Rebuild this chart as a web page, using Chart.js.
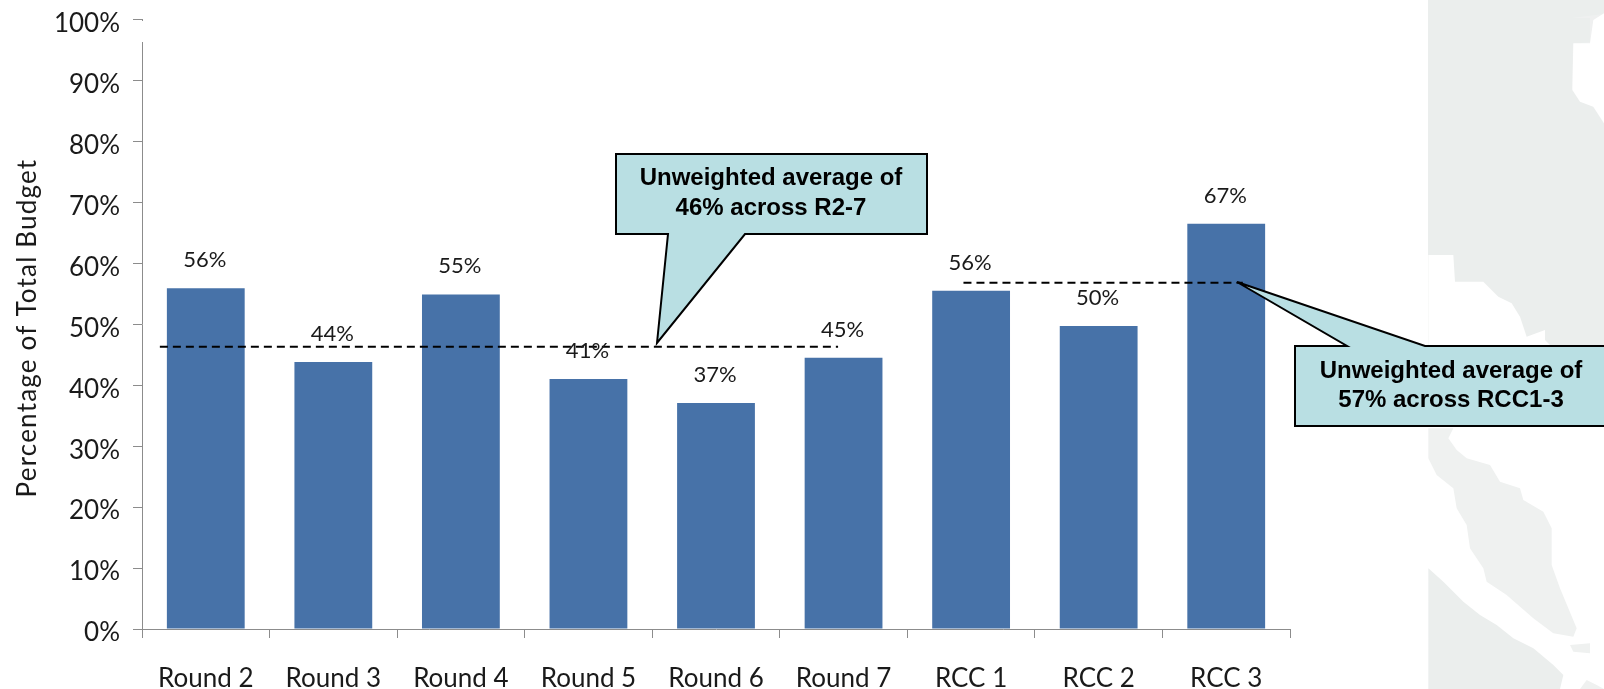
<!DOCTYPE html>
<html><head><meta charset="utf-8">
<style>html,body{margin:0;padding:0;background:#fff}canvas{display:block}</style>
<script src="https://cdn.jsdelivr.net/npm/chart.js@4"></script></head>
<body><div style="width:1604px;height:689px"><canvas id="c" width="1604" height="689"></canvas></div>
<script>
const categories = ["Round 2","Round 3","Round 4","Round 5","Round 6","Round 7","RCC 1","RCC 2","RCC 3"];
const budgetShare = [55.9,43.8,54.9,41,37.1,44.5,55.5,49.7,66.5];
const barLabels = ["56%","44%","55%","41%","37%","45%","56%","50%","67%"];
const avgRoundsX = [0.14,5.457];
const avgRoundsY = [46.3,46.3];
const avgRccX = [6.44,8.63];
const avgRccY = [56.8,56.8];
const yAxisTitle = "Percentage of Total Budget";
const calloutRounds = ["Unweighted average of","46% across R2-7"];
const calloutRcc = ["Unweighted average of","57% across RCC1-3"];

const FONT = "Lato, 'Open Sans', sans-serif";
const poly = (ctx,pts,col)=>{ctx.beginPath();pts.forEach((p,i)=>i?ctx.lineTo(p[0],p[1]):ctx.moveTo(p[0],p[1]));ctx.closePath();ctx.fillStyle=col;ctx.fill();};
const z = (x0,y0,pts)=>pts.map(p=>[x0+p[0]/3,y0+p[1]/3]);

const mapBackdrop = {id:'mapBackdrop',beforeDraw(ch){
  const c=ch.ctx,G='#ebeeed',L='#eff1f0',W='#ffffff';c.save();
  c.fillStyle=W;c.fillRect(0,0,1604,689);
  c.fillStyle=G;c.fillRect(1428,0,176,350);
  poly(c,[[1572,18],[1590,18],[1590,42],[1573,44],[1572,88],[1580,101],[1593,107],[1604,124],[1604,14]],'#eff0f0');
  poly(c,z(1540,0,[[192,40],[160,60],[150,130],[100,130],[97,270],[120,305],[160,320],[192,370]]),W);
  poly(c,z(1420,240,[[25,45],[100,45],[105,125],[190,125],[235,170],[275,190],[300,230],[320,290],[375,270],[375,300],[405,330],[25,330]]),W);
  const P=[[25,10],[100,10],[85,40],[110,75],[140,100],[210,120],[240,170],[300,190],[310,225],[370,260],[395,310],[395,420],[420,490],[470,610],[460,635],[400,625],[340,580],[260,510],[200,470],[190,430],[150,370],[140,300],[110,250],[100,190],[50,150],[25,100]];
  poly(c,z(1420,425,P),L);
  poly(c,z(1420,425,[[25,430],[70,470],[130,530],[180,570],[230,600],[280,640],[340,670],[400,720],[430,750],[420,792],[25,792]]),G);
  poly(c,z(1420,425,[[480,792],[500,765],[530,780],[552,792]]),L);
  poly(c,z(1420,425,[[450,660],[510,655],[510,685],[460,680]]),L);
  c.restore();
}};

function callout(c,pts,lines,cx,ys){
  c.save();
  c.beginPath();pts.forEach((p,i)=>i?c.lineTo(p[0],p[1]):c.moveTo(p[0],p[1]));c.closePath();
  c.fillStyle='#b9dfe3';c.fill();c.strokeStyle='#000';c.lineWidth=2;c.lineJoin='miter';c.stroke();
  c.fillStyle='#000';c.font="bold 24px 'Liberation Sans', Arial, sans-serif";c.textAlign='center';c.textBaseline='middle';
  lines.forEach((t,i)=>c.fillText(t,cx,ys[i]));
  c.restore();
}

const annotate = {id:'annotate',afterDatasetsDraw(ch){
  const c=ch.ctx,meta=ch.getDatasetMeta(2);
  c.save();
  c.fillStyle='#1a1a1a';c.font="22px "+FONT;c.textAlign='center';c.textBaseline='middle';
  meta.data.forEach((b,i)=>c.fillText(barLabels[i],b.x-1,b.y-28));
  c.translate(28,328);c.rotate(-Math.PI/2);
  c.font="26px "+FONT;c.letterSpacing='1.2px';c.fillText(yAxisTitle,0,0);
  c.restore();
  c.save();c.fillStyle='#fff';c.fillRect(141,21,3,21);c.restore();
  callout(c,[[616,154],[927,154],[927,234],[745,234],[657,343],[668,234],[616,234]],calloutRounds,771,[178,208]);
  callout(c,[[1295,346],[1347,346],[1237,282],[1425,346],[1610,346],[1610,426],[1295,426]],calloutRcc,1451,[371,400]);
}};

new Chart(document.getElementById('c'),{
  type:'bar',
  data:{labels:categories,datasets:[
    {type:'scatter',data:avgRoundsX.map((x,i)=>({x,y:avgRoundsY[i]})),xAxisID:'x2',showLine:true,pointRadius:0,borderColor:'#000',borderWidth:2,borderDash:[8,5],order:0},
    {type:'scatter',data:avgRccX.map((x,i)=>({x,y:avgRccY[i]})),xAxisID:'x2',showLine:true,pointRadius:0,borderColor:'#000',borderWidth:2,borderDash:[8,5],order:0},
    {type:'bar',data:budgetShare,backgroundColor:'#4772a8',grouped:false,barPercentage:1,categoryPercentage:0.61,order:1}
  ]},
  options:{
    responsive:false,animation:false,
    layout:{padding:{top:19.5,right:314,left:0,bottom:0}},
    plugins:{legend:{display:false},tooltip:{enabled:false},title:{display:false}},
    scales:{
      x:{type:'category',offset:true,afterFit(s){s.height=60;s.paddingLeft=0;s.paddingRight=0;},
        grid:{drawOnChartArea:false,tickLength:9,tickColor:'#8c8c8c',offset:true},border:{color:'#8c8c8c',width:1},
        ticks:{autoSkip:false,maxRotation:0,minRotation:0,padding:25,color:'#1a1a1a',font:{family:FONT,size:26}}},
      x2:{type:'linear',min:0,max:9,display:false,offset:false,grid:{offset:false}},
      y:{min:0,max:100,afterFit(s){s.width=142;s.paddingTop=0;s.paddingBottom=0;},
        grid:{drawOnChartArea:false,tickLength:9,tickColor:'#8c8c8c'},border:{color:'#8c8c8c',width:1},
        ticks:{stepSize:10,padding:13,labelOffset:4,color:'#1a1a1a',font:{family:FONT,size:26},callback:v=>v+'%'}}
    }
  },
  plugins:[mapBackdrop,annotate]
});
</script></body></html>
